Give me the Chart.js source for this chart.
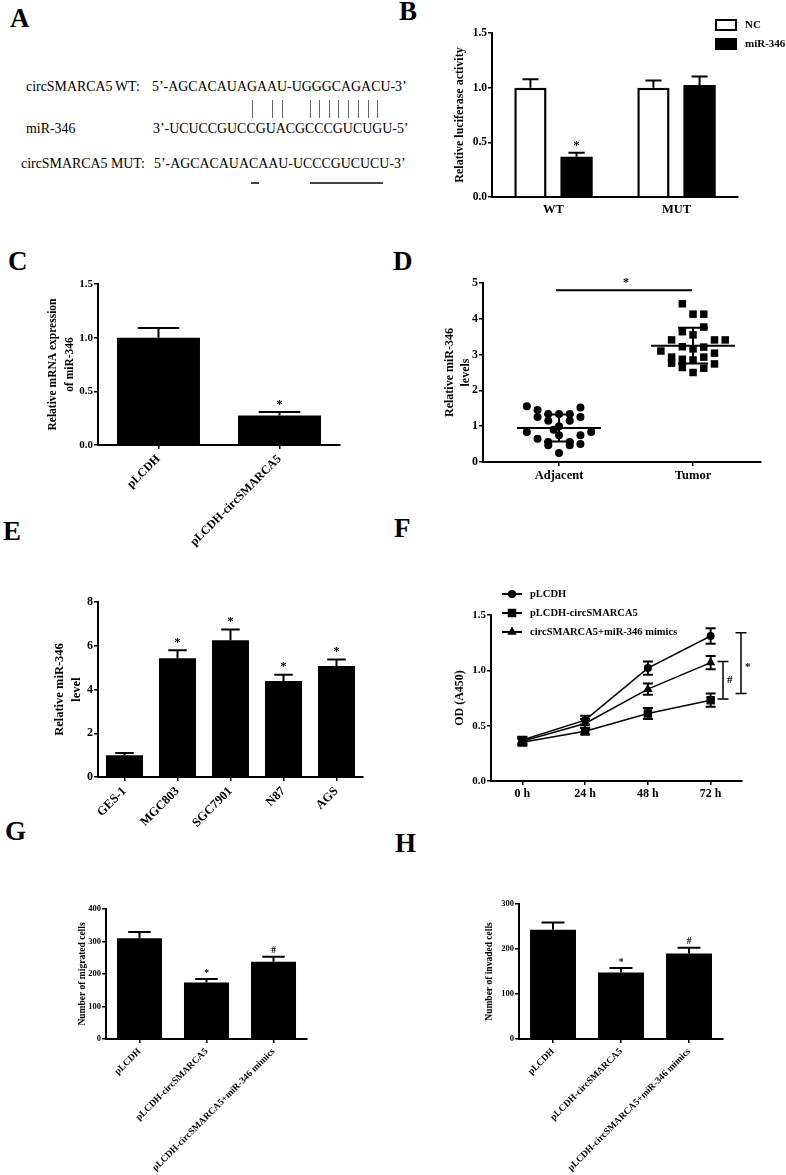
<!DOCTYPE html>
<html>
<head>
<meta charset="utf-8">
<title>circSMARCA5 / miR-346</title>
<script src="https://cdn.jsdelivr.net/npm/chart.js@4.4.1/dist/chart.umd.min.js"></script>
<style>
  html, body { margin: 0; padding: 0; background: #fff; }
  #fig { position: relative; width: 786px; height: 1175px; overflow: hidden; background: #fff;
         font-family: "Liberation Serif", "Times New Roman", serif; color: #000; }
  #fig canvas { position: absolute; }
  .tag { position: absolute; font-size: 27px; font-weight: bold; line-height: 1; }
  .seq { position: absolute; font-size: 13.9px; line-height: 1; white-space: pre; }
  .bond { position: absolute; top: 100px; height: 18px; width: 1px; background: #666; }
  .mut { position: absolute; top: 182px; height: 1.5px; background: #444; }
</style>
</head>
<body>
<div id="fig">
  <div class="tag" style="left:10px;top:5px">A</div>
  <div class="tag" style="left:399px;top:-2px">B</div>
  <div class="tag" style="left:8px;top:248px">C</div>
  <div class="tag" style="left:393px;top:248px">D</div>
  <div class="tag" style="left:3px;top:518px">E</div>
  <div class="tag" style="left:394px;top:515px">F</div>
  <div class="tag" style="left:5px;top:818px">G</div>
  <div class="tag" style="left:395px;top:830px">H</div>

  <!-- A: binding site -->
  <div class="seq" style="left:26px;top:80px">circSMARCA5</div>
  <div class="seq" style="left:115px;top:80px">WT:</div>
  <div class="seq" style="left:152px;top:80px">5’-AGCACAUAGAAU-UGGGCAGACU-3’</div>
  <div class="seq" style="left:26px;top:122px">miR-346</div>
  <div class="seq" style="left:153px;top:122px">3’-UCUCCGUCCGUACGCCCGUCUGU-5’</div>
  <div class="seq" style="left:21px;top:157px">circSMARCA5 MUT:</div>
  <div class="seq" style="left:154px;top:157px">5’-AGCACAUACAAU-UCCCGUCUCU-3’</div>
  <div class="bond" style="left:252px"></div>
  <div class="bond" style="left:272px"></div>
  <div class="bond" style="left:282px"></div>
  <div class="bond" style="left:310px"></div>
  <div class="bond" style="left:319px"></div>
  <div class="bond" style="left:329px"></div>
  <div class="bond" style="left:338px"></div>
  <div class="bond" style="left:348px"></div>
  <div class="bond" style="left:358px"></div>
  <div class="bond" style="left:368px"></div>
  <div class="bond" style="left:377px"></div>
  <div class="mut" style="left:251px;width:8px"></div>
  <div class="mut" style="left:310px;width:73px"></div>

  <canvas id="chartB"></canvas>
  <canvas id="chartC"></canvas>
  <canvas id="chartD"></canvas>
  <canvas id="chartE"></canvas>
  <canvas id="chartF"></canvas>
  <canvas id="chartG"></canvas>
  <canvas id="chartH"></canvas>
</div>
<script>
// B - luciferase reporter
const bGroups = ['WT', 'MUT'];
const bNC = [1.0, 1.0];
const bNCErr = [0.077, 0.065];
const bMiR = [0.367, 1.025];
const bMiRErr = [0.037, 0.077];
const bMiRMarks = ['*', ''];

// C - miR-346 after circSMARCA5 overexpression
const cGroups = ['pLCDH', 'pLCDH-circSMARCA5'];
const cValues = [1.0, 0.274];
const cErr = [0.089, 0.034];
const cMarks = ['', '*'];

// D - tissue levels (jitter = column slot of each dot)
const dGroups = ['Adjacent', 'Tumor'];
const dAdjacent = [1.56, 1.45, 1.26, 1.34, 1.15, 1.34, 1.34, 1.15, 1.52, 1.26, 1.0, 0.9,
                   0.84, 0.84, 0.65, 0.56, 0.75, 0.56, 0.75, 0.47, 0.47, 0.5, 0.25];
const dAdjacentJitter = [-3, -2, -2, -1, -1, 0, 1, 1, 2, 2, 0, -0.5,
                         -3, 3, -2, -1, 0, 1, 2, -1, 1, 2, 0];
const dTumor = [4.42, 4.13, 4.13, 3.64, 3.77, 3.55, 3.41, 3.41, 3.41, 3.22, 3.21, 3.10,
                3.16, 2.93, 2.87, 2.93, 3.04, 2.76, 2.85, 2.74, 2.64, 2.62, 2.50];
const dTumorJitter = [-1, 0, 1, -1, 1, 0, -2, 2, 3, -1, 1, -3,
                      0, -2, -1, 1, 2, -2, 0, 2, -1, 1, 0];
const dMean = [0.95, 3.25];
const dSD = [0.38, 0.5];
const dSigLevel = 4.8;

// E - cell lines
const eGroups = ['GES-1', 'MGC803', 'SGC7901', 'N87', 'AGS'];
const eValues = [1.0, 5.43, 6.25, 4.39, 5.08];
const eErr = [0.1, 0.36, 0.49, 0.29, 0.29];
const eMarks = ['', '*', '*', '*', '*'];

// F - CCK-8
const fTimes = ['0 h', '24 h', '48 h', '72 h'];
const fLabels = ['pLCDH', 'pLCDH-circSMARCA5', 'circSMARCA5+miR-346 mimics'];
const fPLCDH = [0.37, 0.55, 1.02, 1.31];
const fPLCDHErr = [0.03, 0.04, 0.06, 0.07];
const fCirc = [0.35, 0.45, 0.61, 0.73];
const fCircErr = [0.03, 0.03, 0.05, 0.06];
const fMimic = [0.36, 0.52, 0.83, 1.07];
const fMimicErr = [0.03, 0.04, 0.05, 0.06];
const fBracketLow = [0.74, 0.79];
const fBracketHigh = [1.08, 1.34];
const fBracketMark = ['#', '*'];

// G, H - transwell
const ghGroups = ['pLCDH', 'pLCDH-circSMARCA5', 'pLCDH-circSMARCA5+miR-346 mimics'];
const ghMarks = ['', '*', '#'];
const gValues = [310, 174, 238];
const gErr = [19, 11, 15];
const hValues = [243, 148, 190];
const hErr = [16, 10, 13];

const serif = '"Liberation Serif", "Times New Roman", serif';
Chart.defaults.font.family = serif;
Chart.defaults.color = '#000';
Chart.defaults.animation = false;
Chart.defaults.responsive = false;
Chart.defaults.devicePixelRatio = 1;
Chart.defaults.plugins.legend.display = false;
Chart.defaults.plugins.tooltip.enabled = false;

function canvasAt(id, left, top, width, height) {
    const c = document.getElementById(id);
    c.width = width;
    c.height = height;
    c.style.left = left + 'px';
    c.style.top = top + 'px';
    return c;
}

function yScale(o) {
    return {
        min: o.min,
        max: o.max,
        ticks: {
            stepSize: o.step, padding: 1, color: '#000',
            font: { size: o.size, weight: 'bold' },
            callback: v => v.toFixed(o.digits || 0)
        },
        grid: { drawOnChartArea: false, tickLength: 4, color: '#000', lineWidth: 1.5 },
        border: { color: '#000', width: 2 },
        title: {
            display: true, text: o.title, color: '#000',
            font: { size: o.titleSize, weight: 'bold', lineHeight: o.lh || 1.2 },
            padding: { top: o.tp, bottom: 0 }
        },
        afterFit: s => { s.width = o.width; }
    };
}

function xScale(o) {
    return {
        offset: true,
        grid: { offset: false, drawOnChartArea: false, drawTicks: o.ticks !== false,
                tickLength: 4, color: '#000', lineWidth: 1.5 },
        border: { color: '#000', width: 2 },
        ticks: {
            color: '#000', font: { size: o.size, weight: 'bold' }, padding: o.pad || 3,
            minRotation: o.rot || 0, maxRotation: o.rot || 0, autoSkip: false
        },
        afterFit: s => { s.height = o.height; }
    };
}

// error bars (up only for bars, both ways for lines) + significance marks
const errorBars = {
    id: 'errorBars',
    afterDatasetsDraw(chart) {
        const ctx = chart.ctx;
        const y = chart.scales.y;
        chart.data.datasets.forEach((ds, di) => {
            if (!ds.errors) return;
            const meta = chart.getDatasetMeta(di);
            meta.data.forEach((el, i) => {
                const v = ds.data[i];
                const e = ds.errors[i];
                const half = el.width ? el.width * 0.25 : 5;
                const top = y.getPixelForValue(v + e);
                const bot = ds.bothWays ? y.getPixelForValue(v - e) : el.y;
                ctx.save();
                ctx.strokeStyle = '#000';
                ctx.lineWidth = 2;
                ctx.beginPath();
                ctx.moveTo(el.x, bot);
                ctx.lineTo(el.x, top);
                ctx.moveTo(el.x - half, top);
                ctx.lineTo(el.x + half, top);
                if (ds.bothWays) {
                    ctx.moveTo(el.x - half, bot);
                    ctx.lineTo(el.x + half, bot);
                }
                ctx.stroke();
                if (ds.marks && ds.marks[i]) {
                    ctx.fillStyle = '#000';
                    ctx.font = 'bold ' + ds.markSize + 'px ' + serif;
                    ctx.textAlign = 'center';
                    ctx.textBaseline = 'bottom';
                    ctx.fillText(ds.marks[i], el.x, top - 1);
                }
                ctx.restore();
            });
        });
    }
};

const boxLegend = {
    id: 'boxLegend',
    afterDraw(chart) {
        const { ctx, chartArea } = chart;
        chart.data.datasets.forEach((ds, i) => {
            const y = chartArea.top - 8 + i * 19;
            ctx.save();
            ctx.fillStyle = ds.backgroundColor;
            ctx.strokeStyle = '#000';
            ctx.lineWidth = 2;
            ctx.fillRect(chartArea.right - 22, y - 5, 20, 10);
            ctx.strokeRect(chartArea.right - 22, y - 5, 20, 10);
            ctx.fillStyle = '#000';
            ctx.font = 'bold 11px ' + serif;
            ctx.textAlign = 'left';
            ctx.textBaseline = 'middle';
            ctx.fillText(ds.label, chartArea.right + 7, y);
            ctx.restore();
        });
    }
};

function marker(ctx, style, r, x, y) {
    ctx.beginPath();
    if (style === 'circle') {
        ctx.arc(x, y, r, 0, Math.PI * 2);
    } else if (style === 'rect') {
        const s = r * Math.SQRT1_2;
        ctx.rect(x - s, y - s, 2 * s, 2 * s);
    } else {
        const h = r * 1.5;
        ctx.moveTo(x, y - r);
        ctx.lineTo(x + h / Math.sqrt(3), y + r / 2);
        ctx.lineTo(x - h / Math.sqrt(3), y + r / 2);
        ctx.closePath();
    }
    ctx.fill();
}

const markerLegend = {
    id: 'markerLegend',
    afterDraw(chart) {
        const { ctx, chartArea } = chart;
        chart.data.datasets.forEach((ds, i) => {
            const y = chartArea.top - 21 + i * 19;
            const x0 = chartArea.left + 11;
            ctx.save();
            ctx.strokeStyle = '#000';
            ctx.fillStyle = '#000';
            ctx.lineWidth = 2;
            ctx.beginPath();
            ctx.moveTo(x0, y);
            ctx.lineTo(x0 + 20, y);
            ctx.stroke();
            marker(ctx, ds.pointStyle, ds.pointRadius, x0 + 10, y);
            ctx.font = 'bold 10.5px ' + serif;
            ctx.textAlign = 'left';
            ctx.textBaseline = 'middle';
            ctx.fillText(ds.label, x0 + 28, y);
            ctx.restore();
        });
    }
};

const brackets = {
    id: 'brackets',
    afterDraw(chart) {
        const { ctx, chartArea, scales: { y } } = chart;
        const xs = [chartArea.right - 19, chartArea.right - 1];
        fBracketMark.forEach((m, i) => {
            const y0 = y.getPixelForValue(fBracketLow[i]);
            const y1 = y.getPixelForValue(fBracketHigh[i]);
            const x = xs[i];
            ctx.save();
            ctx.strokeStyle = '#000';
            ctx.lineWidth = 1.5;
            ctx.beginPath();
            ctx.moveTo(x, y0); ctx.lineTo(x, y1);
            ctx.moveTo(x - 5.5, y0); ctx.lineTo(x + 5.5, y0);
            ctx.moveTo(x - 5.5, y1); ctx.lineTo(x + 5.5, y1);
            ctx.stroke();
            ctx.fillStyle = '#000';
            ctx.font = 'bold 11px ' + serif;
            ctx.textAlign = 'left';
            ctx.textBaseline = 'middle';
            ctx.fillText(m, x + 4, (y0 + y1) / 2 + (m === '*' ? 4 : 0));
            ctx.restore();
        });
    }
};

const meanSD = {
    id: 'meanSD',
    afterDatasetsDraw(chart) {
        const { ctx, scales: { x, y } } = chart;
        ctx.save();
        ctx.strokeStyle = '#000';
        ctx.lineWidth = 2;
        dMean.forEach((m, i) => {
            const cx = x.getPixelForValue(i);
            const ym = y.getPixelForValue(m);
            const yu = y.getPixelForValue(m + dSD[i]);
            const yl = y.getPixelForValue(m - dSD[i]);
            ctx.beginPath();
            ctx.moveTo(cx - 42, ym); ctx.lineTo(cx + 42, ym);
            ctx.moveTo(cx, yu); ctx.lineTo(cx, yl);
            ctx.moveTo(cx - 15, yu); ctx.lineTo(cx + 15, yu);
            ctx.moveTo(cx - 15, yl); ctx.lineTo(cx + 15, yl);
            ctx.stroke();
        });
        const ys = y.getPixelForValue(dSigLevel);
        ctx.beginPath();
        ctx.moveTo(x.getPixelForValue(0) - 3, ys);
        ctx.lineTo(x.getPixelForValue(1) - 1, ys);
        ctx.stroke();
        ctx.fillStyle = '#000';
        ctx.font = 'bold 12px ' + serif;
        ctx.textAlign = 'center';
        ctx.textBaseline = 'bottom';
        ctx.fillText('*', (x.getPixelForValue(0) + x.getPixelForValue(1)) / 2, ys - 1);
        ctx.restore();
    }
};

function blackBars(data, errors, marks, markSize, barPct) {
    return {
        data, errors, marks, markSize,
        backgroundColor: '#000', borderColor: '#000', borderWidth: 0,
        categoryPercentage: 0.8, barPercentage: barPct
    };
}

// B
new Chart(canvasAt('chartB', 448, 15, 338, 215), {
    type: 'bar',
    data: {
        labels: bGroups,
        datasets: [
            { label: 'NC', data: bNC, errors: bNCErr, backgroundColor: '#fff', borderColor: '#000',
              borderWidth: 2.5, categoryPercentage: 0.75, barPercentage: 0.7 },
            { label: 'miR-346', data: bMiR, errors: bMiRErr, marks: bMiRMarks, markSize: 13,
              backgroundColor: '#000', borderColor: '#000', borderWidth: 0,
              categoryPercentage: 0.75, barPercentage: 0.7 }
        ]
    },
    options: {
        layout: { padding: { top: 18, right: 48, left: 0, bottom: 0 } },
        scales: {
            x: xScale({ size: 12.5, height: 33, ticks: false, pad: 5 }),
            y: yScale({ min: 0, max: 1.5, step: 0.5, digits: 1, size: 11.5,
                        title: 'Relative luciferase activity', titleSize: 12, tp: 4.5, width: 44 })
        }
    },
    plugins: [errorBars, boxLegend]
});

// C
new Chart(canvasAt('chartC', 40, 270, 310, 285), {
    type: 'bar',
    data: { labels: cGroups, datasets: [blackBars(cValues, cErr, cMarks, 13, 0.857)] },
    options: {
        layout: { padding: { top: 14, right: 10, left: 0, bottom: 0 } },
        scales: {
            x: xScale({ size: 12, height: 110, rot: 45, pad: 3 }),
            y: yScale({ min: 0, max: 1.5, step: 0.5, digits: 1, size: 11,
                        title: ['Relative mRNA expression', 'of miR-346'], titleSize: 11.5, lh: 1.5,
                        tp: 4.5, width: 58 })
        }
    },
    plugins: [errorBars]
});

// D
const dSlot = 0.08;
new Chart(canvasAt('chartD', 440, 270, 341, 230), {
    type: 'scatter',
    data: {
        datasets: [
            { label: dGroups[0], data: dAdjacent.map((v, i) => ({ x: dAdjacentJitter[i] * dSlot, y: v })),
              pointStyle: 'circle', pointRadius: 4, backgroundColor: '#000', borderColor: '#000', borderWidth: 0 },
            { label: dGroups[1], data: dTumor.map((v, i) => ({ x: 1 + dTumorJitter[i] * dSlot, y: v })),
              pointStyle: 'rect', pointRadius: 5.3, backgroundColor: '#000', borderColor: '#000', borderWidth: 0 }
        ]
    },
    options: {
        layout: { padding: { top: 13, right: 20, left: 0, bottom: 0 } },
        scales: {
            x: {
                type: 'linear', min: -0.567, max: 1.507,
                afterBuildTicks: s => { s.ticks = dGroups.map((g, i) => ({ value: i })); },
                grid: { drawOnChartArea: false, tickLength: 4, color: '#000', lineWidth: 1.5 },
                border: { color: '#000', width: 2 },
                ticks: { color: '#000', font: { size: 12.5, weight: 'bold' }, padding: 2,
                         callback: v => dGroups[Math.round(v)] },
                afterFit: s => { s.height = 38; }
            },
            y: yScale({ min: 0, max: 5, step: 1, digits: 0, size: 12,
                        title: ['Relative miR-346', 'levels'], titleSize: 12, lh: 1.35, tp: 1.5, width: 43 })
        }
    },
    plugins: [meanSD]
});

// E
new Chart(canvasAt('chartE', 50, 590, 323, 257), {
    type: 'bar',
    data: { labels: eGroups, datasets: [blackBars(eValues, eErr, eMarks, 13, 0.873)] },
    options: {
        layout: { padding: { top: 12, right: 10, left: 0, bottom: 0 } },
        scales: {
            x: xScale({ size: 12.5, height: 70, rot: 45, pad: 3 }),
            y: yScale({ min: 0, max: 8, step: 2, digits: 0, size: 12,
                        title: ['Relative miR-346', 'level'], titleSize: 12.5, lh: 1.36, tp: 1, width: 48 })
        }
    },
    plugins: [errorBars]
});

// F
function fLine(label, data, errors, style, radius) {
    return {
        label, data, errors, bothWays: true,
        borderColor: '#000', backgroundColor: '#000', borderWidth: 1.5,
        pointStyle: style, pointRadius: radius, pointBackgroundColor: '#000', pointBorderColor: '#000',
        pointBorderWidth: 0, fill: false, tension: 0
    };
}
new Chart(canvasAt('chartF', 448, 580, 338, 230), {
    type: 'line',
    data: {
        labels: fTimes,
        datasets: [
            fLine(fLabels[0], fPLCDH, fPLCDHErr, 'circle', 4),
            fLine(fLabels[1], fCirc, fCircErr, 'rect', 6),
            fLine(fLabels[2], fMimic, fMimicErr, 'triangle', 5.5)
        ]
    },
    options: {
        layout: { padding: { top: 35, right: 44, left: 0, bottom: 0 } },
        scales: {
            x: xScale({ size: 12, height: 29, pad: 2 }),
            y: yScale({ min: 0, max: 1.5, step: 0.5, digits: 1, size: 11,
                        title: 'OD (A450)', titleSize: 12, tp: 4.5, width: 43 })
        }
    },
    plugins: [errorBars, markerLegend, brackets]
});

// G
new Chart(canvasAt('chartG', 70, 895, 252, 280), {
    type: 'bar',
    data: { labels: ghGroups, datasets: [blackBars(gValues, gErr, ghMarks, 9.5, 0.84)] },
    options: {
        layout: { padding: { top: 14, right: 15, left: 0, bottom: 0 } },
        scales: {
            x: xScale({ size: 9.5, height: 136, rot: 45, pad: 3 }),
            y: yScale({ min: 0, max: 400, step: 100, digits: 0, size: 8.5,
                        title: 'Number of migrated cells', titleSize: 9.5, tp: 7.3, width: 36 })
        }
    },
    plugins: [errorBars]
});

// H
new Chart(canvasAt('chartH', 480, 890, 258, 285), {
    type: 'bar',
    data: { labels: ghGroups, datasets: [blackBars(hValues, hErr, ghMarks, 9.5, 0.845)] },
    options: {
        layout: { padding: { top: 14, right: 15, left: 0, bottom: 0 } },
        scales: {
            x: xScale({ size: 9.5, height: 136, rot: 45, pad: 3 }),
            y: yScale({ min: 0, max: 300, step: 100, digits: 0, size: 8.5,
                        title: 'Number of invaded cells', titleSize: 9.5, tp: 4.3, width: 39 })
        }
    },
    plugins: [errorBars]
});
</script>
</body>
</html>
